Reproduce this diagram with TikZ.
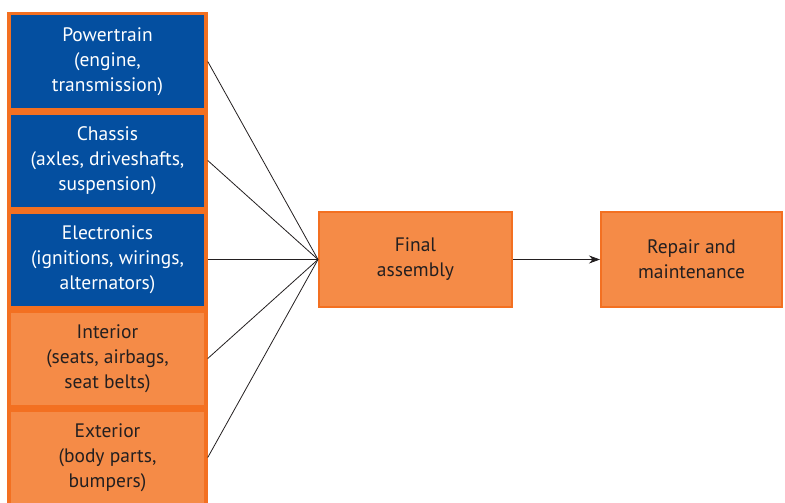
\documentclass[tikz,border=0pt]{standalone}
\usepackage{fontspec}
\setmainfont{PT Sans}
\usetikzlibrary{arrows.meta}
\definecolor{partblue}{RGB}{4,79,160}
\definecolor{partorange}{RGB}{245,139,71}
\definecolor{edgeorange}{RGB}{243,112,33}
\definecolor{inkgray}{RGB}{35,31,32}
\tikzset{
  part/.style={draw=edgeorange, line width=3.5pt, minimum width=197pt, minimum height=95.5pt,
    align=center, inner sep=0pt, font=\fontsize{19.5}{25}\selectfont},
  bluepart/.style={part, fill=partblue, text=white},
  orangepart/.style={part, fill=partorange, text=inkgray},
  stage/.style={draw=edgeorange, line width=2pt, fill=partorange, text=inkgray, minimum height=95pt,
    align=center, inner sep=0pt, font=\fontsize{19.5}{25}\selectfont},
  feed/.style={line width=0.8pt, draw=inkgray}
}
\begin{document}
\begin{tikzpicture}[x=1pt, y=-1pt]
  \useasboundingbox (0,0) rectangle (785,503);
  % parts column
  \node[bluepart]   (powertrain)  at (107.5,61.5)  {Powertrain\\(engine,\\transmission)};
  \node[bluepart]   (chassis)     at (107.5,160.5) {Chassis\\(axles, driveshafts,\\suspension)};
  \node[bluepart]   (electronics) at (107.5,259.5) {Electronics\\(ignitions, wirings,\\alternators)};
  \node[orangepart] (interior)    at (107.5,358.5) {Interior\\(seats, airbags,\\seat belts)};
  \node[orangepart] (exterior)    at (107.5,457.5) {Exterior\\(body parts,\\bumpers)};
  % stages
  \node[stage, minimum width=193pt] (assembly) at (415.5,259.5) {Final\\assembly};
  \node[stage, minimum width=181pt] (repair)   at (691.5,259.5) {Repair and\\maintenance};
  % connectors
  \foreach \p in {powertrain,chassis,electronics,interior,exterior}
    \draw[feed] (\p.east) -- (assembly.west);
  \draw[feed, -{Stealth[length=11pt, width=8pt]}] (assembly.east) -- (repair.west);
\end{tikzpicture}
\end{document}
